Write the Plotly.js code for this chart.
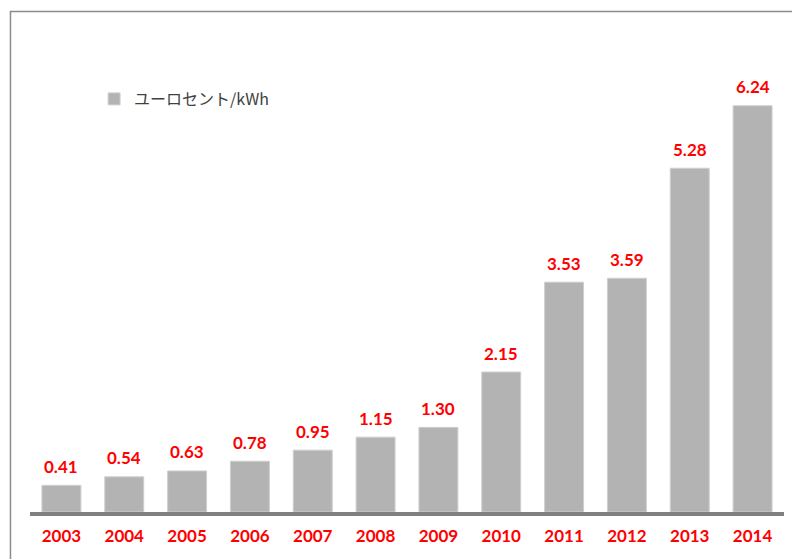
<!DOCTYPE html>
<html>
<head>
<meta charset="utf-8">
<script src="https://cdn.plot.ly/plotly-3.0.1.min.js"></script>
<style>html,body{margin:0;padding:0;background:#fff;}#chart{width:792px;height:559px;}</style>
</head>
<body>
<div id="chart"></div>
<script>
var years = ['2003','2004','2005','2006','2007','2008','2009','2010','2011','2012','2013','2014'];
var values = [0.41, 0.54, 0.63, 0.78, 0.95, 1.15, 1.30, 2.15, 3.53, 3.59, 5.28, 6.24];
var seriesName = 'ユーロセント/kWh';

function labelFont() {
  return {family: 'Lato, "Open Sans", sans-serif', size: 17, color: '#ff0000', weight: 'bold'};
}

var trace = {
  type: 'bar',
  x: years,
  y: values,
  name: seriesName,
  marker: {color: '#b3b3b3', line: {color: '#cfcfcf', width: 1}},
  width: 0.62,
  hoverinfo: 'x+y'
};

var annotations = values.map(function(v, i) {
  return {
    x: i, y: v, xref: 'x', yref: 'y',
    text: v.toFixed(2),
    showarrow: false, xanchor: 'center', yanchor: 'middle', yshift: 19,
    font: labelFont()
  };
});

var layout = {
  width: 792, height: 559,
  margin: {l: 30, r: 8, t: 40, b: 47},
  paper_bgcolor: '#ffffff', plot_bgcolor: '#ffffff',
  showlegend: true,
  legend: {
    x: 0.085, y: 0.875, xanchor: 'left', yanchor: 'middle',
    font: {family: '"Noto Sans CJK JP", sans-serif', size: 16, color: '#404040'},
    bgcolor: 'rgba(0,0,0,0)'
  },
  xaxis: {
    type: 'category',
    range: [-0.5, 11.5],
    showline: true, linecolor: '#808080', linewidth: 4,
    showgrid: false, zeroline: false, ticks: '',
    ticklabelstandoff: 6,
    tickfont: labelFont(),
    fixedrange: true
  },
  yaxis: {
    range: [0, 7.25],
    showticklabels: false, showgrid: false, zeroline: false, showline: false, ticks: '',
    fixedrange: true
  },
  annotations: annotations,
  shapes: [{
    type: 'path', xref: 'paper', yref: 'paper',
    path: 'M -0.0259,-0.2 L -0.0259,1.0604 L 1.1,1.0604',
    line: {color: '#8c8c8c', width: 1.5}
  }]
};

Plotly.newPlot('chart', [trace], layout, {displayModeBar: false, staticPlot: true});
</script>
</body>
</html>
